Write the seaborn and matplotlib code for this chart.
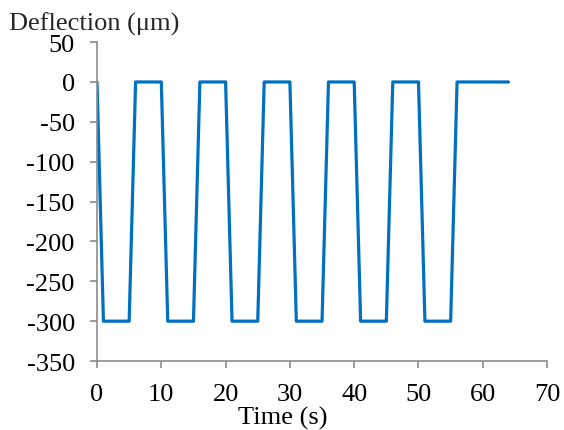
import matplotlib
matplotlib.use("Agg")
import matplotlib.pyplot as plt
import seaborn as sns
import pandas as pd

time_s = [0, 1, 5, 6, 10, 11, 15, 16, 20, 21, 25, 26, 30, 31, 35, 36, 40, 41, 45, 46, 50, 51, 55, 56, 64]
deflection_um = [0, -300, -300, 0, 0, -300, -300, 0, 0, -300, -300, 0, 0, -300, -300, 0, 0, -300, -300, 0, 0, -300, -300, 0, 0]
x_ticks = [0, 10, 20, 30, 40, 50, 60, 70]
y_ticks = [50, 0, -50, -100, -150, -200, -250, -300, -350]

sns.set_theme(style="white")
plt.rcParams['font.family'] = ['Liberation Serif', 'DejaVu Serif']
plt.rcParams['axes.unicode_minus'] = False

df = pd.DataFrame({"Time (s)": time_s, "Deflection": deflection_um})

fig = plt.figure(figsize=(5.64, 4.31), dpi=100)
ax = fig.add_axes([0.172, 0.160, 0.798, 0.740])
sns.lineplot(data=df, x="Time (s)", y="Deflection", ax=ax, color="#0070C0",
             linewidth=2.3, sort=False, estimator=None)

fs = 19
ax.set_xlim(0, 70)
ax.set_ylim(-350, 50)
ax.set_xticks(x_ticks)
ax.set_yticks(y_ticks)
ax.tick_params(axis='both', direction='out', length=5, width=1.2, color='#8c8c8c',
               labelsize=fs, labelcolor='black', bottom=True, left=True)
ax.tick_params(axis='y', pad=11)
ax.tick_params(axis='x', pad=11)
for s in ['top', 'right']:
    ax.spines[s].set_visible(False)
for s in ['left', 'bottom']:
    ax.spines[s].set_color('#8c8c8c')
    ax.spines[s].set_linewidth(1.2)

ax.set_xlabel("Time (s)", fontsize=fs, color='black', labelpad=0)
ax.xaxis.set_label_coords((282.5 - 97) / 450, -0.142)
ax.set_ylabel("")
fig.text(9 / 564, 1 - 24 / 431, "Deflection (μm)", fontsize=fs, ha='left', va='center')

fig.savefig("out.png", dpi=100)
